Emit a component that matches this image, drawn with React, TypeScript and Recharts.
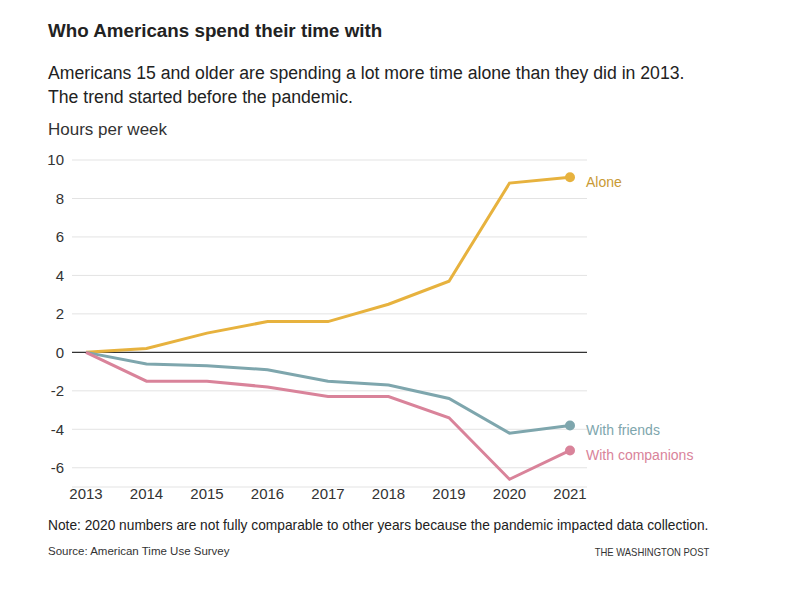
import { LineChart, Line, XAxis, YAxis, CartesianGrid, ReferenceLine } from 'recharts';

const years = ['2013', '2014', '2015', '2016', '2017', '2018', '2019', '2020', '2021'];
const alone = [0, 0.2, 1.0, 1.6, 1.6, 2.5, 3.7, 8.8, 9.1];
const withFriends = [0, -0.6, -0.7, -0.9, -1.5, -1.7, -2.4, -4.2, -3.8];
const withCompanions = [0, -1.5, -1.5, -1.8, -2.3, -2.3, -3.4, -6.6, -5.1];
const yTicks = [-6, -4, -2, 0, 2, 4, 6, 8, 10];

const series = [
  { key: 'alone', name: 'Alone', colour: '#e7b23e', text: '#c99a35', values: alone },
  { key: 'friends', name: 'With friends', colour: '#7ea6ad', text: '#7ea6ad', values: withFriends },
  { key: 'companions', name: 'With companions', colour: '#d9839a', text: '#d9839a', values: withCompanions },
];

const data = years.map((y, i) => ({
  year: y,
  alone: alone[i],
  friends: withFriends[i],
  companions: withCompanions[i],
}));

const FONT = '"Liberation Sans", Arial, sans-serif';

function endDot(colour: string, textColour: string, label: string) {
  return (p: any) => {
    if (p.index !== years.length - 1) return <g key={p.index} />;
    return (
      <g key={p.index}>
        <circle cx={p.cx} cy={p.cy} r={5} fill={colour} />
        <text x={p.cx + 16} y={p.cy + 10} fill={textColour} fontSize={14} fontFamily={FONT}>
          {label}
        </text>
      </g>
    );
  };
}

export default function App() {
  return (
    <div style={{ position: 'absolute', left: 0, top: 0, width: 800, height: 589, background: '#fff', fontFamily: FONT, color: '#222' }}>
      <div style={{ position: 'absolute', left: 48, top: 20, fontSize: 18.8, fontWeight: 700, whiteSpace: 'nowrap' }}>
        Who Americans spend their time with
      </div>
      <div style={{ position: 'absolute', left: 48, top: 61, fontSize: 17.65, lineHeight: '24px', color: '#222', whiteSpace: 'nowrap' }}>
        Americans 15 and older are spending a lot more time alone than they did in 2013.
        <br />
        The trend started before the pandemic.
      </div>
      <div style={{ position: 'absolute', left: 48, top: 120, fontSize: 17, color: '#333' }}>
        Hours per week
      </div>
      <div style={{ position: 'absolute', left: 0, top: 0 }}>
        <LineChart width={800} height={589} data={data} margin={{ top: 160, right: 213, bottom: 72, left: 42 }}>
          <CartesianGrid vertical={false} stroke="#e3e3e3" />
          <XAxis
            dataKey="year"
            height={30}
            axisLine={false}
            tickLine={false}
            tickSize={0}
            tickMargin={1}
            padding={{ left: 14, right: 17 }}
            tick={{ fontSize: 15, fill: '#333', fontFamily: FONT }}
            interval={0}
          />
          <YAxis
            type="number"
            domain={[-7, 10]}
            ticks={yTicks}
            width={30}
            axisLine={false}
            tickLine={false}
            tickSize={0}
            tickMargin={8}
            tick={{ fontSize: 15, fill: '#333', fontFamily: FONT }}
          />
          <ReferenceLine y={0} stroke="#333" strokeWidth={1.2} />
          {series.map((s) => (
            <Line
              key={s.key}
              dataKey={s.key}
              stroke={s.colour}
              strokeWidth={3}
              dot={endDot(s.colour, s.text, s.name)}
              activeDot={false}
              isAnimationActive={false}
            />
          ))}
        </LineChart>
      </div>
      <div style={{ position: 'absolute', left: 48, top: 518, fontSize: 13.75, color: '#222', whiteSpace: 'nowrap' }}>
        Note: 2020 numbers are not fully comparable to other years because the pandemic impacted data collection.
      </div>
      <div style={{ position: 'absolute', left: 48, top: 545, fontSize: 11.5, color: '#333' }}>
        Source: American Time Use Survey
      </div>
      <div
        style={{
          position: 'absolute', right: 91, top: 546, fontSize: 11, color: '#333', whiteSpace: 'nowrap',
          transform: 'scaleX(0.86)', transformOrigin: 'right center',
        }}
      >
        THE WASHINGTON POST
      </div>
    </div>
  );
}
